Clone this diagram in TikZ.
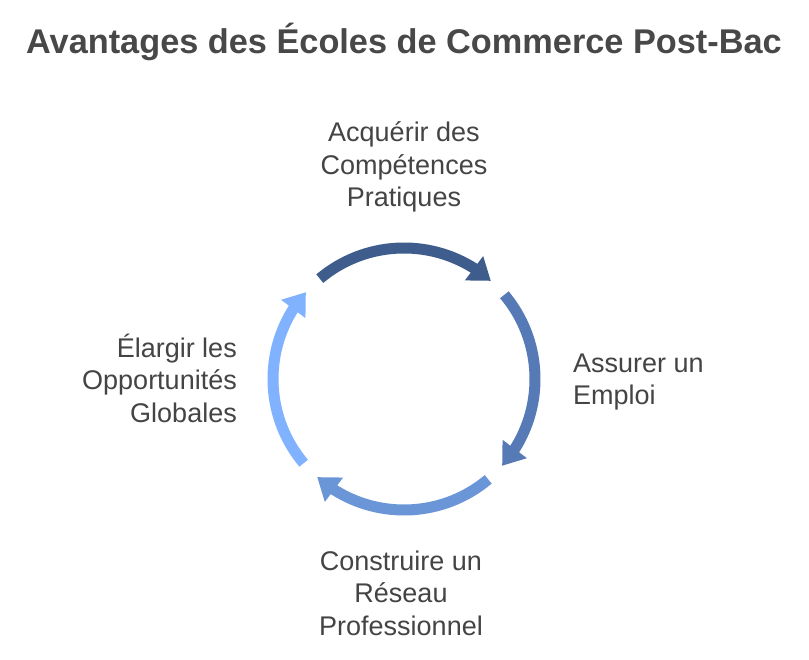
\documentclass[tikz,border=0pt]{standalone}
\usepackage{fontspec}
\setmainfont{Liberation Sans}
\usetikzlibrary{arrows.meta,bending}
\definecolor{txt}{RGB}{68,68,68}
\definecolor{ttl}{RGB}{72,72,72}
\definecolor{cA}{RGB}{62,92,140}
\definecolor{cB}{RGB}{85,122,182}
\definecolor{cC}{RGB}{106,150,216}
\definecolor{cD}{RGB}{128,178,255}
\tikzset{
  lbl/.style={text=txt, font=\fontsize{27}{32.5}\selectfont, inner sep=0pt},
  cyc/.style={line width=11pt, -{Triangle[length=21pt,width=29pt,flex]}},
}
\begin{document}
\begin{tikzpicture}[x=1pt,y=1pt]
\useasboundingbox (0,0) rectangle (809,660);
\fill[white] (0,0) rectangle (809,660);
\node[text=ttl, font=\bfseries\fontsize{34.3}{40}\selectfont, inner sep=0pt] (title) at (404,618) {Avantages des Écoles de Commerce Post-Bac};
\coordinate (C) at (404,281);
\node[lbl, align=center] (top) at (404,493) {Acquérir des\\Compétences\\Pratiques};
\node[lbl, align=left, anchor=west] (right) at (573,278) {Assurer un\\Emploi};
\node[lbl, align=center] (bottom) at (401,67) {Construire un\\Réseau\\Professionnel};
\node[lbl, align=right, anchor=east] (left) at (237,282) {Élargir les\\Opportunités\\Globales};
\draw[cyc, cA] ([shift={(130:131)}]C) arc[start angle=130, end angle=48.5, radius=131];
\draw[cyc, cB] ([shift={(40:131)}]C) arc[start angle=40, end angle=-41.5, radius=131];
\draw[cyc, cC] ([shift={(-50:131)}]C) arc[start angle=-50, end angle=-131.5, radius=131];
\draw[cyc, cD] ([shift={(220:131)}]C) arc[start angle=220, end angle=138.5, radius=131];
\end{tikzpicture}
\end{document}
